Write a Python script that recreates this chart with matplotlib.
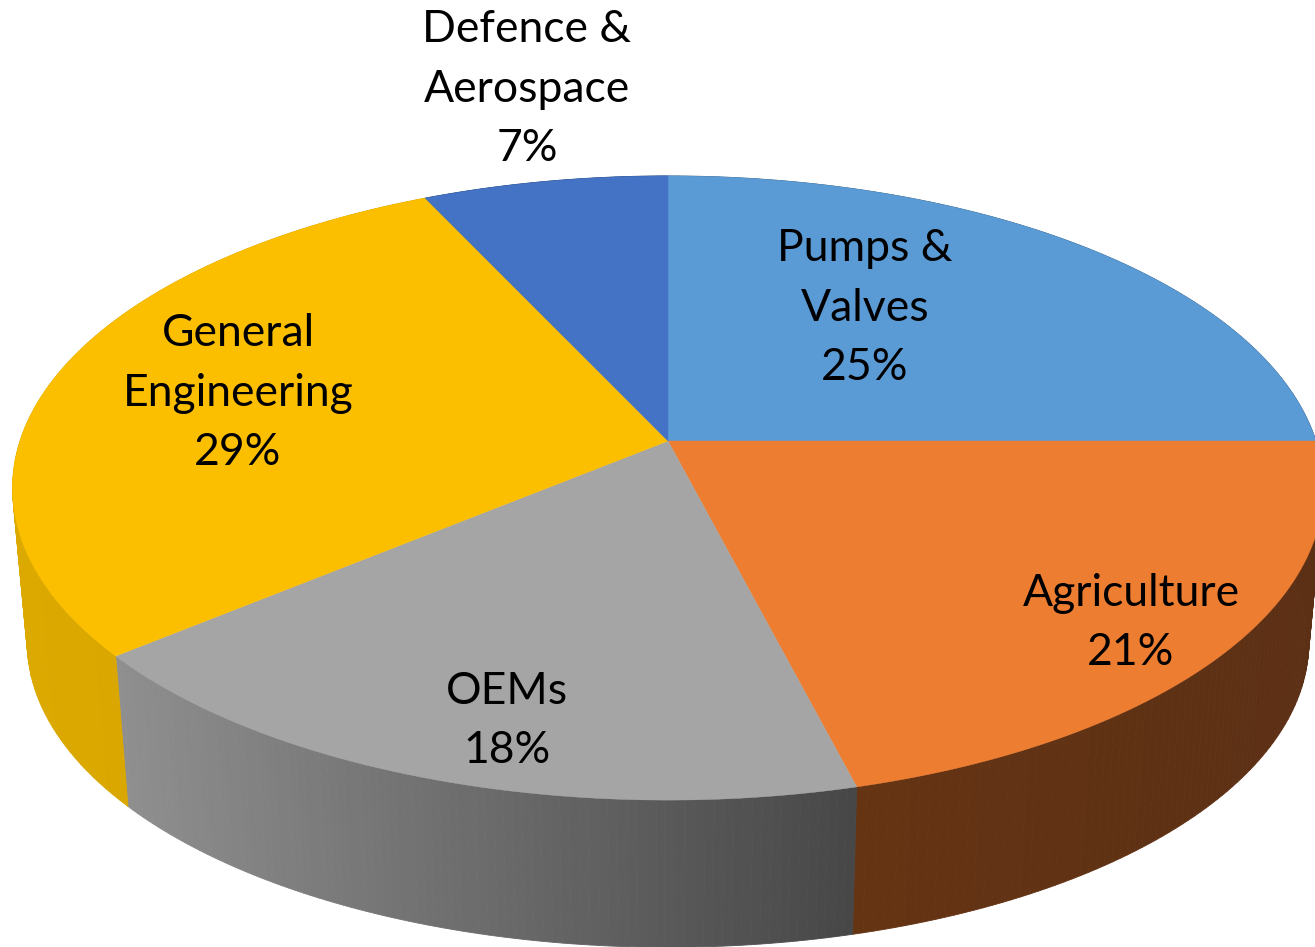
import numpy as np
import matplotlib
matplotlib.use("Agg")
import matplotlib.pyplot as plt
from matplotlib.colors import to_rgb

categories = ["Pumps &\nValves", "Agriculture", "OEMs", "General\nEngineering", "Defence &\nAerospace"]
values = [25, 21, 18, 29, 7]
top_colors = ["#5B9BD5", "#ED7D31", "#A5A5A5", "#FCBF00", "#4472C4"]
wall_left = ["#3A6080", "#653413", "#8F8F8F", "#DCA900", "#2A4878"]
wall_right = ["#3A6080", "#5C3015", "#474747", "#D4A100", "#2A4878"]
label_xy = [(865, 308), (1131, 623), (507, 721), (238, 393), (527, 89)]

# view geometry of the tilted disc
CX, CY, RX, RY, K = 668.0, 441.0, 648.0, 305.0, 0.1506
VY, DEPTH_SCALE = 7400.0, 0.9777


def rim(theta):
    u, v = np.sin(theta), np.cos(theta)
    w = 1 + K * v
    return CX + RX * u / w, CY - RY * v / w


def lower(x, y):
    return CX + (x - CX) * DEPTH_SCALE, VY + (y - VY) * DEPTH_SCALE


fig = plt.figure(figsize=(13.15, 9.47), dpi=100, facecolor="white")
ax = fig.add_axes([0, 0, 1, 1])
ax.set_xlim(0, 1315)
ax.set_ylim(947, 0)
ax.axis("off")

edges = np.cumsum([0] + values) / sum(values) * 2 * np.pi

# side wall, drawn as narrow strips shaded across each slice
for i in range(len(values)):
    t = np.linspace(edges[i], edges[i + 1], 90)
    xs, ys = rim(t)
    bx, by = lower(xs, ys)
    lo, hi = min(xs.min(), bx.min()), max(xs.max(), bx.max())
    cl, cr = np.array(to_rgb(wall_left[i])), np.array(to_rgb(wall_right[i]))
    for j in range(len(t) - 1):
        f = ((xs[j] + xs[j + 1]) / 2 - lo) / max(hi - lo, 1)
        c = tuple(cl + (cr - cl) * f)
        ax.fill([xs[j], xs[j + 1], bx[j + 1], bx[j]],
                [ys[j], ys[j + 1], by[j + 1], by[j]],
                color=c, lw=0.6, zorder=1)

# top face
for i in range(len(values)):
    t = np.linspace(edges[i], edges[i + 1], 160)
    xs, ys = rim(t)
    ax.fill(np.r_[CX, xs], np.r_[CY, ys], color=top_colors[i], lw=0.3, zorder=2)

for name, val, (lx, ly) in zip(categories, values, label_xy):
    ax.text(lx, ly, f"{name}\n{val}%", ha="center", va="center", color="black",
            family="Lato", fontsize=32, linespacing=1.55, zorder=3, clip_on=False)

fig.savefig("out.png", dpi=100, facecolor="white")
